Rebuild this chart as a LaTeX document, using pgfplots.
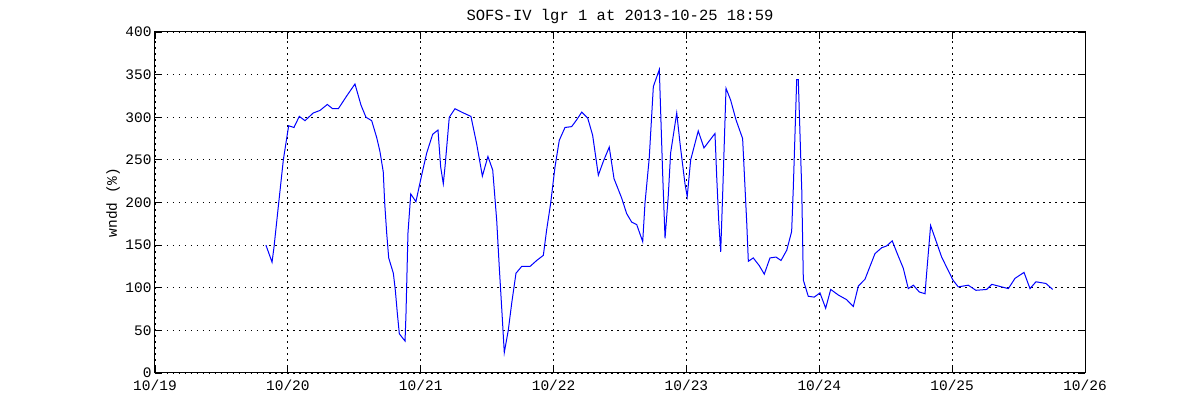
\documentclass[border=0pt]{standalone}
\usepackage{fontspec}
\setmainfont{Liberation Mono}
\usepackage{pgfplots}
\pgfplotsset{compat=1.18}
\pgfplotstableread{
x y
19.835 150
19.881 130
19.896 148
19.928 195
19.966 250
20.006 290
20.046 288
20.086 301
20.129 296
20.191 305
20.242 308
20.297 315
20.337 310
20.380 310
20.443 325
20.505 339
20.551 314
20.588 300
20.631 296
20.669 276
20.693 260
20.718 236
20.729 199
20.744 164
20.759 135
20.794 117
20.809 97
20.824 70
20.839 46
20.882 37.5
20.889 68
20.904 164
20.925 210
20.964 201
21.007 232
21.045 258
21.090 280
21.130 285
21.150 242
21.170 222
21.183 242
21.215 300
21.258 310
21.308 306
21.378 301
21.421 269
21.464 231
21.506 254
21.542 238
21.572 179
21.591 125
21.612 70
21.629 24
21.659 50
21.685 82
21.717 117
21.760 125
21.823 125
21.873 132
21.923 138
21.948 168
21.978 199
22.011 242
22.043 273
22.086 288
22.136 289
22.174 297
22.212 306
22.257 299
22.294 279
22.337 232
22.374 248
22.419 265
22.455 228
22.513 205
22.550 187
22.588 177
22.626 174
22.671 154
22.688 199
22.720 252
22.751 336
22.796 356
22.806 307
22.821 234
22.839 158
22.863 207
22.881 258
22.927 305
22.952 269
22.989 222
23.006 207
23.032 250
23.089 284
23.132 264
23.215 281
23.228 230
23.243 179
23.258 142
23.273 211
23.298 334
23.333 320
23.373 297
23.423 275
23.454 176
23.466 131
23.503 135
23.548 126
23.586 116
23.629 135
23.674 136
23.712 132
23.755 144
23.792 166
23.804 215
23.830 344
23.842 344
23.868 215
23.880 109
23.917 90
23.962 89
24.005 94
24.048 76
24.086 98
24.143 91.5
24.206 86
24.256 78
24.294 102
24.344 110
24.419 140
24.470 147
24.507 149
24.549 155
24.587 140
24.632 123
24.670 99
24.708 103
24.753 95
24.796 93
24.808 117
24.838 173
24.921 136
25.006 109
25.046 101
25.121 103
25.179 97
25.260 98
25.298 104
25.373 101
25.423 99
25.473 111
25.541 118
25.586 99
25.631 107
25.706 105
25.757 98
}\wndd
\begin{document}
\begin{tikzpicture}
\useasboundingbox (-155pt,-47pt) rectangle (1045pt,373pt);
\begin{axis}[
  at={(0,0)}, anchor=south west,
  width=930pt, height=341pt, scale only axis,
  xmin=19, xmax=26, ymin=0, ymax=400,
  xtick={19,20,21,22,23,24,25,26},
  xticklabels={10/19,10/20,10/21,10/22,10/23,10/24,10/25,10/26},
  ytick={0,50,...,400},
  /pgf/number format/assume math mode=true,
  tick label style={font=\fontsize{14.5}{16}\selectfont},
  label style={font=\fontsize{14.5}{16}\selectfont},
  title style={font=\fontsize{15.5}{17}\selectfont, at={(0.5,1)}, anchor=south, yshift=-1pt},
  title={SOFS-IV lgr 1 at 2013-10-25 18:59},
  ylabel={wndd (\%)},
  ylabel style={at={(axis description cs:-0.045,0.5)}, anchor=center},
  grid=major,
  grid style={black, line width=0.8pt, dash pattern=on 1.5pt off 4.5pt},
  tick align=inside, tick pos=both,
  major tick length=7pt,
  every tick/.style={black, line width=0.8pt},
  axis line style={black, line width=1pt},
  xticklabel style={yshift=-3pt},
]
\addplot[blue, line width=1pt, mark=none] table {\wndd};
\end{axis}
\end{tikzpicture}
\end{document}
